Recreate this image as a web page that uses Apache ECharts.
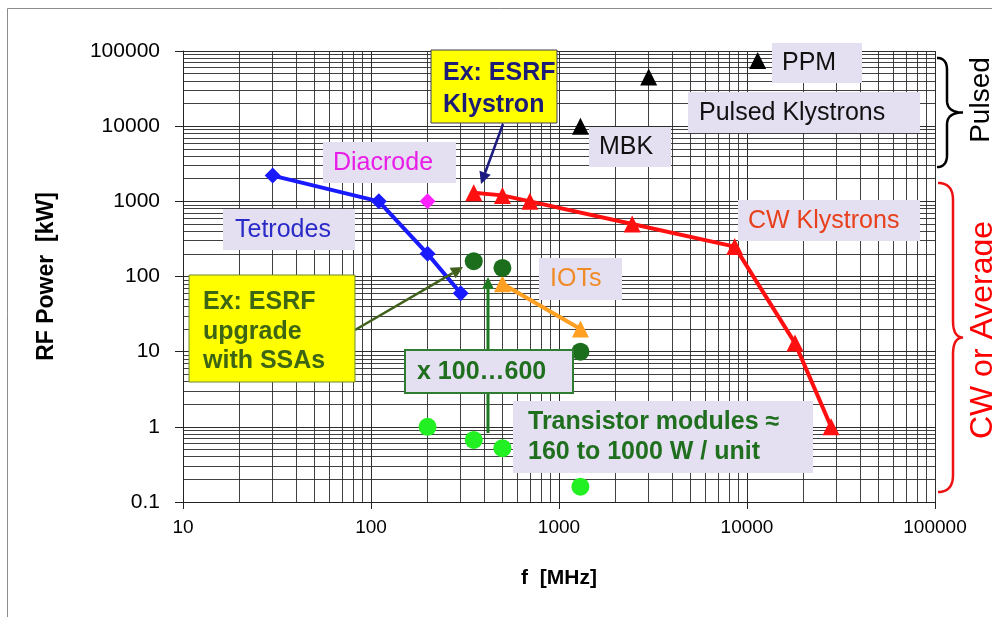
<!DOCTYPE html>
<html><head><meta charset="utf-8">
<script src="https://cdn.jsdelivr.net/npm/echarts@6/dist/echarts.min.js"></script>
<style>html,body{margin:0;padding:0;background:#fff}#c{width:992px;height:617px}</style>
</head><body><div id="c"></div>
<script>
// ---- data (f in MHz, P in kW) ----
const xTickLabels = ['10','100','1000','10000','100000'];
const yTickLabels = ['0.1','1','10','100','1000','10000','100000'];
const tetrodes = [[30,2200],[110,1000],[200,200],[300,60]];
const diacrode = [[200,1000]];
const cwKlystrons = [[352,1300],[500,1200],[700,1000],[2450,500],[8600,250],[18000,13],[28000,1]];
const pulsedKlystrons = [[1300,10000],[3000,45000],[11400,75000]];
const iots = [[500,80],[1300,20]];
const ssaAmps = [[352,160],[500,130],[1300,10]];
const transistors = [[200,1],[352,0.67],[500,0.52],[1300,0.16]];

// minor log grid values (2..9 per decade)
const xDecades = [10,100,1000,10000];
const yDecades = [0.1,1,10,100,1000,10000];
const mult = [2,3,4,5,6,7,8,9];
const minorX = [], minorY = [];
xDecades.forEach(d => mult.forEach(m => minorX.push(+(d*m).toPrecision(6))));
yDecades.forEach(d => mult.forEach(m => minorY.push(+(d*m).toPrecision(6))));

const chart = echarts.init(document.getElementById('c'), null, {renderer:'canvas'});
const FONT = 'Liberation Sans, Arial, sans-serif';
const lav = '#e4dff1';
const GRID = '#2c2c2c';

function arrow(x1,y1,x2,y2,color,w,head){
  const a = Math.atan2(y2-y1,x2-x1);
  const L = head||12, W = (head||12)*0.5;
  const bx = x2 - L*Math.cos(a), by = y2 - L*Math.sin(a);
  return [
    {type:'line', z:50, shape:{x1:x1,y1:y1,x2:bx,y2:by}, style:{stroke:color,lineWidth:w}},
    {type:'polygon', z:50, shape:{points:[[x2,y2],[bx+W*Math.sin(a),by-W*Math.cos(a)],[bx-W*Math.sin(a),by+W*Math.cos(a)]]}, style:{fill:color}}
  ];
}
function box(x,y,w,h,fill,stroke,sw){
  return {type:'rect', z:60, shape:{x:x,y:y,width:w,height:h}, style:{fill:fill,stroke:stroke||null,lineWidth:sw||0}};
}
function txt(x,y,t,color,size,weight,lh){
  return {type:'text', z:61, x:x, y:y, style:{text:t, fill:color, font:(weight||'normal')+' '+size+'px '+FONT, align:'left', verticalAlign:'middle', lineHeight:lh||size*1.2}};
}
function quad(p0,c,p1,pts){
  for(let i=1;i<=12;i++){const t=i/12,u=1-t;
    pts.push([u*u*p0[0]+2*u*t*c[0]+t*t*p1[0], u*u*p0[1]+2*u*t*c[1]+t*t*p1[1]]);}
}
function brace(xe,xs,xt,y0,y1,r,color){
  const ym=(y0+y1)/2, pts=[[xe,y0]];
  quad([xe,y0],[xs,y0],[xs,y0+r],pts);
  pts.push([xs,ym-r]);
  quad([xs,ym-r],[xs,ym],[xt,ym],pts);
  quad([xt,ym],[xs,ym],[xs,ym+r],pts);
  pts.push([xs,y1-r]);
  quad([xs,y1-r],[xs,y1],[xe,y1],pts);
  return {type:'polyline', z:40, shape:{points:pts}, style:{fill:null,stroke:color,lineWidth:2.5}};
}

const graphics = [
  {type:'rect', z:0, shape:{x:7.5,y:8.5,width:1000,height:700}, style:{fill:null,stroke:'#8c8c8c',lineWidth:1}},
  ...arrow(503,124,481,184,'#1c1c80',2.5,12),
  ...arrow(355,330,463,267,'#40601c',2.5,12),
  ...arrow(488,433,488,277,'#1e7a1e',3,12),
  box(431,50,126,73,'#ffff00','#3c3c5a',1),
  txt(443,89,'Ex: ESRF\nKlystron','#1c1c78',25,'bold',32),
  box(323,142,133,41,lav),
  txt(333,163,'Diacrode','#e81ee8',25),
  box(223,209,132,41,lav),
  txt(235,230,'Tetrodes','#2a2ac8',25),
  box(589,127,82,40,lav),
  txt(599,147,'MBK','#111111',25),
  box(772,43,90,40,lav),
  txt(782,63,'PPM','#111111',25),
  box(688,92,232,41,lav),
  txt(699,113,'Pulsed Klystrons','#111111',25),
  box(738,200,182,41,lav),
  txt(748,221,'CW Klystrons','#e8401c',25),
  box(539,258,83,42,lav),
  txt(550,279,'IOTs','#f08c28',25),
  box(189,275,166,107,'#ffff00','#6a8a30',1),
  txt(203,332,'Ex: ESRF\nupgrade\nwith SSAs','#3d6614',25,'bold',29.5),
  box(405,350,168,43,lav,'#2e7d32',2),
  txt(417,372,'x 100…600','#1f6f1f',25,'bold'),
  box(513,401,300,72,lav),
  txt(528,437,'Transistor modules ≈\n160 to 1000 W / unit','#1f6f1f',25,'bold',30),
  brace(937,947,963,58,167,12,'#000000'),
  brace(938,953,963,183,492,17,'#ee1111'),
  {type:'text', z:40, x:981, y:100, rotation:Math.PI/2, style:{text:'Pulsed', fill:'#000', font:'28px '+FONT, align:'center', verticalAlign:'middle'}},
  {type:'text', z:40, x:983, y:330, rotation:Math.PI/2, style:{text:'CW or Average', fill:'#ff0000', font:'32px '+FONT, align:'center', verticalAlign:'middle'}}
];

function fmt(v){ return String(+(+v).toPrecision(6)); }

chart.setOption({
  animation:false,
  backgroundColor:'#ffffff',
  grid:{left:183,right:57,top:51,bottom:115,containLabel:false},
  xAxis:{
    type:'log', logBase:10, min:10, max:100000, splitNumber:4,
    name:'f  [MHz]', nameLocation:'middle', nameGap:66,
    nameTextStyle:{fontFamily:FONT,fontSize:21,fontWeight:'bold',color:'#000'},
    axisLine:{show:true,onZero:false,lineStyle:{color:'#222',width:1}},
    axisTick:{show:true,length:7,lineStyle:{color:'#222'}},
    axisLabel:{fontFamily:FONT,fontSize:19,color:'#000',margin:16,
      formatter:(v)=>{const s=fmt(v); return xTickLabels.includes(s)?s:'';}},
    splitLine:{show:true,lineStyle:{color:GRID,width:1}}
  },
  yAxis:{
    type:'log', logBase:10, min:0.1, max:100000, splitNumber:6,
    name:'RF Power  [kW]', nameLocation:'middle', nameGap:125, nameRotate:90,
    nameTextStyle:{fontFamily:FONT,fontSize:23,fontWeight:'bold',color:'#000'},
    axisLine:{show:true,onZero:false,lineStyle:{color:'#222',width:1}},
    axisTick:{show:true,length:8,lineStyle:{color:'#222'}},
    axisLabel:{fontFamily:FONT,fontSize:21,color:'#000',margin:23,
      formatter:(v)=>{const s=fmt(v); return yTickLabels.includes(s)?s:'';}},
    splitLine:{show:true,lineStyle:{color:GRID,width:1}}
  },
  graphic:graphics,
  series:[
    {name:'minor grid', type:'line', data:[], z:1, silent:true,
      markLine:{silent:true, symbol:['none','none'], label:{show:false}, animation:false,
        lineStyle:{color:GRID,width:1,type:'solid',opacity:0.9},
        data:[...minorX.map(v=>({xAxis:v})), ...minorY.map(v=>({yAxis:v}))]}},
    {name:'Tetrodes', type:'line', data:tetrodes, z:5,
      lineStyle:{width:4,color:'#1a1aff'}, symbol:'diamond', symbolSize:16, itemStyle:{color:'#1a1aff',opacity:1}},
    {name:'Diacrode', type:'scatter', data:diacrode, z:5, symbol:'diamond', symbolSize:16, itemStyle:{color:'#ff22ff',opacity:1}},
    {name:'CW Klystrons', type:'line', data:cwKlystrons, z:5,
      lineStyle:{width:4,color:'#ff1010'}, symbol:'triangle', symbolSize:17, itemStyle:{color:'#ff1010',opacity:1}},
    {name:'Pulsed Klystrons', type:'scatter', data:pulsedKlystrons, z:5, symbol:'triangle', symbolSize:17, itemStyle:{color:'#000',opacity:1}},
    {name:'IOTs', type:'line', data:iots, z:5,
      lineStyle:{width:4,color:'#ffa022'}, symbol:'triangle', symbolSize:17, itemStyle:{color:'#ffa022',opacity:1}},
    {name:'SSA', type:'scatter', data:ssaAmps, z:5, symbol:'circle', symbolSize:18, itemStyle:{color:'#1c6e1c',opacity:1}},
    {name:'Transistor modules', type:'scatter', data:transistors, z:5, symbol:'circle', symbolSize:18, itemStyle:{color:'#22f022',opacity:1}}
  ]
});
</script></body></html>
